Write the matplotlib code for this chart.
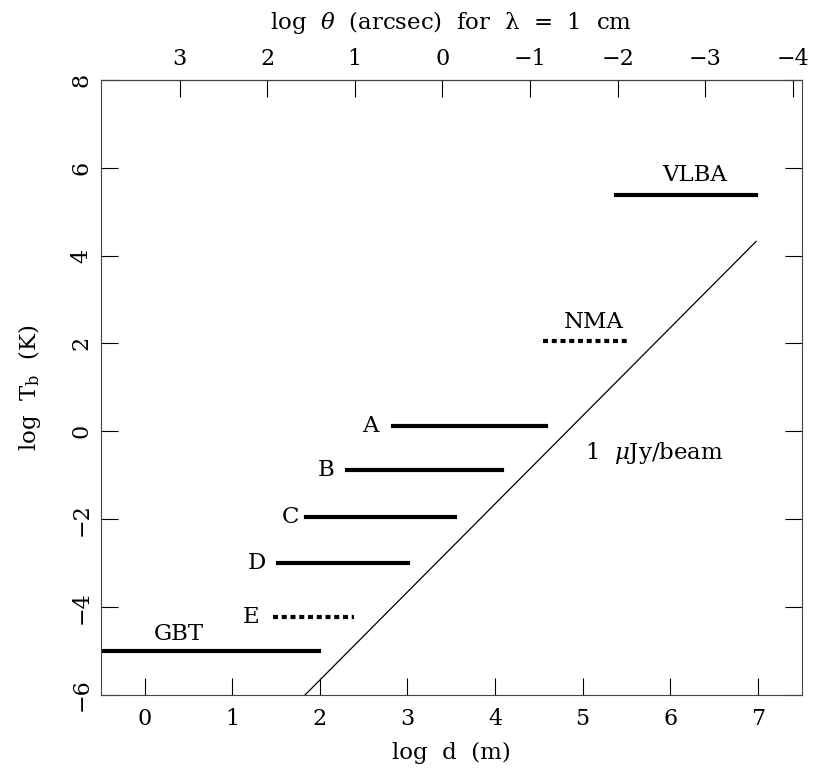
import matplotlib.pyplot as plt

plt.rcParams['font.family'] = 'DejaVu Serif'
plt.rcParams['mathtext.fontset'] = 'dejavuserif'

# Array configurations: name, log Tb, x start, x end, dotted?
names = ['VLBA', 'NMA', 'A', 'B', 'C', 'D', 'E', 'GBT']
log_tb = [5.38, 2.05, 0.12, -0.88, -1.95, -3.0, -4.23, -5.0]
x_start = [5.38, 4.55, 2.84, 2.31, 1.84, 1.52, 1.47, -0.5]
x_end = [6.98, 5.53, 4.58, 4.08, 3.54, 3.01, 2.39, 1.99]
dotted = [False, True, False, False, False, False, True, False]
label_x = [6.28, 5.13, 2.58, 2.07, 1.66, 1.28, 1.22, 0.39]
label_y = [5.84, 2.49, 0.12, -0.88, -1.95, -3.0, -4.23, -4.6]

# 1 uJy/beam sensitivity line
sens_x = [1.83, 6.98]
sens_y = [-6.0, 4.32]

theta_offset = 3.4  # log(1.22 * lambda/d) in arcsec for lambda = 1 cm

fig = plt.figure(figsize=(8.13, 7.74), dpi=100)
ax = fig.add_axes([0.124, 0.102, 0.862, 0.795])

for n, y, x0, x1, dt, lx, ly in zip(names, log_tb, x_start, x_end, dotted, label_x, label_y):
    if dt:
        ax.plot([x0, x1], [y, y], color='black', lw=3, linestyle=(0, (1.2, 0.9)), solid_capstyle='butt')
    else:
        ax.plot([x0, x1], [y, y], color='black', lw=3)
    ax.text(lx, ly, n, ha='center', va='center', fontsize=16.5)

ax.plot(sens_x, sens_y, color='black', lw=0.9)
ax.text(5.82, -0.5, r'1  $\mathit{\mu}$Jy/beam', ha='center', va='center', fontsize=16.5)

ax.set_xlim(-0.5, 7.5)
ax.set_ylim(-6, 8)
ax.set_xticks(range(0, 8))
ax.set_yticks(range(-6, 9, 2))
ax.tick_params(axis='x', direction='in', length=12, width=0.8, labelsize=16, top=False, pad=9)
ax.tick_params(axis='y', direction='in', length=12, width=0.8, labelsize=16, right=True, pad=6)
for lab in ax.get_yticklabels():
    lab.set_rotation(90)
    lab.set_va('center')
ax.set_xlabel('log  d  (m)', fontsize=16.5, labelpad=9)
ax.set_ylabel(r'log  T$_\mathrm{b}$  (K)', fontsize=16.5, labelpad=20)
for s in ax.spines.values():
    s.set_linewidth(0.8)
    s.set_color('#444444')

sec = ax.secondary_xaxis('top', functions=(lambda x: theta_offset - x, lambda t: theta_offset - t))
sec.set_xticks([3, 2, 1, 0, -1, -2, -3, -4])
sec.tick_params(direction='in', length=12, width=0.8, labelsize=16, pad=7)
sec.set_xlabel(r'log  $\mathit{\theta}$  (arcsec)  for  $\mathrm{\lambda}$  =  1  cm', fontsize=16.5, labelpad=14)

fig.savefig('out.png', dpi=100)
